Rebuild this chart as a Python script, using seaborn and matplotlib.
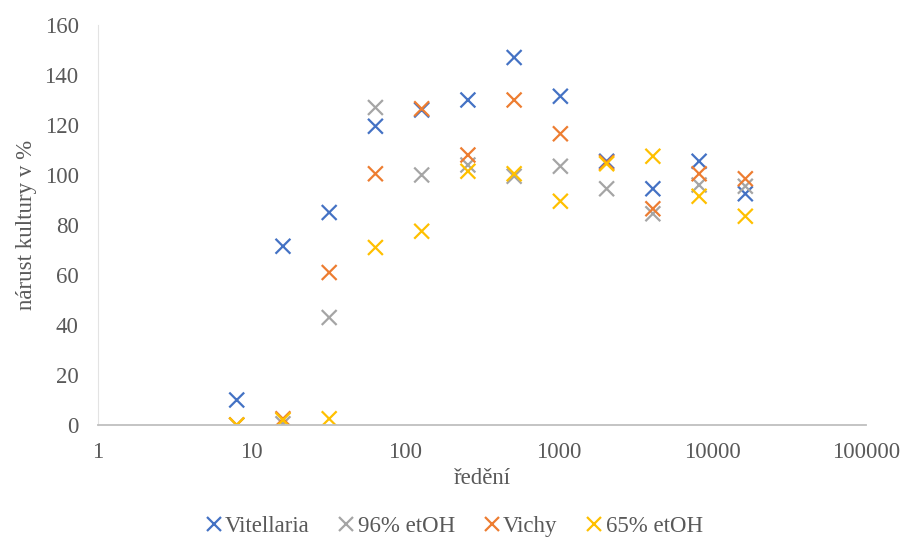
import matplotlib
matplotlib.use("Agg")
import matplotlib.pyplot as plt
import seaborn as sns
import pandas as pd

# dilution series (x axis, log scale)
dilution = [8, 16, 32, 64, 128, 256, 512, 1024, 2048, 4096, 8192, 16384]

vitellaria = [10, 71.5, 85, 119.5, 126, 130, 147, 131.5, 105.5, 94.5, 105.5, 92.5]
etoh96 = [0, 0.5, 43, 127, 100, 104, 99.5, 103.5, 94.5, 84.5, 96, 95.5]
vichy = [0, 2.5, 61, 100.5, 126.5, 108, 130, 116.5, 105, 86.5, 100.5, 98.5]
etoh65 = [0, 2, 2.5, 71, 77.5, 101.5, 100.5, 89.5, 104.5, 107.5, 91.5, 83.5]

series_names = ["Vitellaria", "96% etOH", "Vichy", "65% etOH"]
series_values = [vitellaria, etoh96, vichy, etoh65]
palette = ["#4472C4", "#A5A5A5", "#ED7D31", "#FFC000"]

y_ticks = [0, 20, 40, 60, 80, 100, 120, 140, 160]
x_ticks = [1, 10, 100, 1000, 10000, 100000]
x_ticklabels = ["1", "10", "100", "1000", "10000", "100000"]

df = pd.DataFrame({
    "ředění": dilution * len(series_names),
    "nárust": [v for vals in series_values for v in vals],
    "série": [n for n in series_names for _ in dilution],
})

sns.set_theme(style="white")
plt.rcParams["font.family"] = ["Liberation Serif", "DejaVu Serif"]

text_color = "#595959"
fs = 16.5

fig = plt.figure(figsize=(9.05, 5.4), dpi=100)
ax = fig.add_axes([98 / 905, 1 - 425 / 540, (866 - 98) / 905, 400 / 540])

sns.scatterplot(
    data=df, x="ředění", y="nárust", hue="série",
    hue_order=series_names, palette=palette,
    marker="x", s=115, linewidth=1.6, ax=ax, legend=True,
)

ax.set_xscale("log")
ax.set_xlim(1, 100000)
ax.set_ylim(0, 160)
ax.set_xticks(x_ticks)
ax.set_xticklabels(x_ticklabels)
ax.minorticks_off()
ax.set_yticks(y_ticks)
ax.tick_params(axis="y", length=0, labelsize=fs, colors=text_color, pad=14)
ax.tick_params(axis="x", length=0, labelsize=fs, colors=text_color, pad=12)

for side in ["top", "right"]:
    ax.spines[side].set_visible(False)
ax.spines["bottom"].set_color("#BFBFBF")
ax.spines["bottom"].set_linewidth(1.3)
ax.spines["left"].set_color("#E3E3E3")
ax.spines["left"].set_linewidth(0.8)

ax.set_xlabel("ředění", fontsize=fs, color=text_color, labelpad=4)
ax.set_ylabel("nárust kultury v %", fontsize=fs, color=text_color, labelpad=5.5)

handles, labels = ax.get_legend_handles_labels()
ax.get_legend().remove()
leg = fig.legend(
    handles, labels, loc="center", bbox_to_anchor=(0.5, 1 - 526 / 540),
    ncol=4, frameon=False, fontsize=fs, handletextpad=0.0,
    columnspacing=1.1, handlelength=1.0, borderaxespad=0, borderpad=0,
)
for t in leg.get_texts():
    t.set_color(text_color)

fig.savefig("out.png", dpi=100)
